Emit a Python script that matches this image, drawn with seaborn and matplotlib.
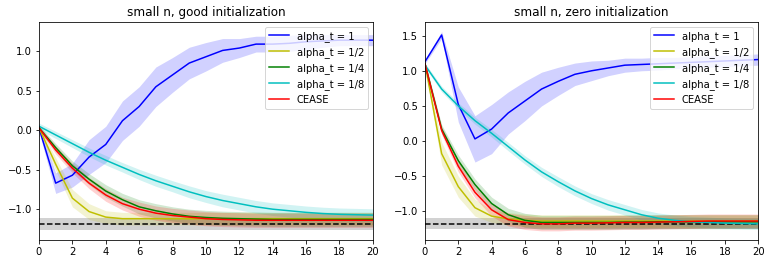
import numpy as np
import matplotlib
matplotlib.use("Agg")
import matplotlib.pyplot as plt
import seaborn as sns

steps = list(range(21))
labels = ["alpha_t = 1", "alpha_t = 1/2", "alpha_t = 1/4", "alpha_t = 1/8", "CEASE"]
colors = ["b", "y", "g", "c", "r"]
titles = ["small n, good initialization", "small n, zero initialization"]

# ---- left panel: good initialization ----
good_a1 = [0.03, -0.67, -0.57, -0.34, -0.18, 0.12, 0.30, 0.55, 0.70, 0.85, 0.93,
           1.01, 1.04, 1.09, 1.09, 1.10, 1.12, 1.13, 1.14, 1.14, 1.14]
good_a1_hw = [0.05, 0.13, 0.15, 0.22, 0.23, 0.25, 0.25, 0.25, 0.22, 0.2, 0.18,
              0.15, 0.12, 0.1, 0.1, 0.1, 0.1, 0.08, 0.07, 0.07, 0.07]
good_a2 = [0.03, -0.43, -0.86, -1.03, -1.10, -1.12, -1.12, -1.12, -1.12, -1.12, -1.12,
           -1.12, -1.12, -1.12, -1.12, -1.12, -1.12, -1.12, -1.12, -1.12, -1.12]
good_a2_hw = [0.03, 0.08, 0.11, 0.1, 0.08, 0.08, 0.08, 0.08, 0.08, 0.08, 0.08,
              0.08, 0.08, 0.08, 0.08, 0.08, 0.08, 0.08, 0.08, 0.08, 0.08]
good_a4 = [0.03, -0.22, -0.45, -0.62, -0.77, -0.88, -0.97, -1.02, -1.06, -1.09, -1.105,
           -1.115, -1.12, -1.125, -1.13, -1.13, -1.13, -1.13, -1.13, -1.13, -1.13]
good_a4_hw = [0.03, 0.05, 0.06, 0.07, 0.08, 0.08, 0.09, 0.09, 0.09, 0.09, 0.09,
              0.09, 0.09, 0.09, 0.09, 0.09, 0.09, 0.09, 0.09, 0.09, 0.09]
good_a8 = [0.05, -0.06, -0.17, -0.28, -0.38, -0.47, -0.56, -0.64, -0.71, -0.78, -0.84,
           -0.89, -0.93, -0.97, -1.00, -1.02, -1.04, -1.055, -1.065, -1.07, -1.075]
good_a8_hw = [0.04, 0.045, 0.05, 0.055, 0.06, 0.06, 0.065, 0.07, 0.07, 0.075, 0.075,
              0.08, 0.08, 0.08, 0.08, 0.08, 0.08, 0.08, 0.08, 0.08, 0.08]
good_cease = [0.03, -0.25, -0.48, -0.67, -0.82, -0.93, -1.00, -1.05, -1.08, -1.10, -1.12,
              -1.13, -1.135, -1.14, -1.14, -1.14, -1.14, -1.14, -1.14, -1.14, -1.14]
good_cease_hw = [0.03, 0.05, 0.06, 0.07, 0.08, 0.08, 0.09, 0.09, 0.09, 0.09, 0.09,
                 0.09, 0.09, 0.09, 0.09, 0.09, 0.09, 0.09, 0.09, 0.09, 0.09]
good_opt, good_opt_hw = -1.19, 0.075

# ---- right panel: zero initialization ----
zero_a1 = [1.13, 1.51, 0.52, 0.03, 0.17, 0.40, 0.57, 0.74, 0.85, 0.95, 1.00,
           1.04, 1.08, 1.09, 1.10, 1.11, 1.12, 1.13, 1.14, 1.15, 1.16]
zero_a1_hw = [0.03, 0.05, 0.25, 0.33, 0.35, 0.3, 0.28, 0.24, 0.2, 0.16, 0.14,
              0.11, 0.1, 0.09, 0.09, 0.08, 0.08, 0.08, 0.08, 0.08, 0.08]
zero_a2 = [1.10, -0.18, -0.65, -0.95, -1.07, -1.11, -1.13, -1.14, -1.14, -1.14, -1.14,
           -1.14, -1.14, -1.14, -1.14, -1.14, -1.14, -1.14, -1.14, -1.14, -1.14]
zero_a2_hw = [0.03, 0.16, 0.15, 0.12, 0.09, 0.09, 0.09, 0.09, 0.09, 0.09, 0.09,
              0.09, 0.09, 0.09, 0.09, 0.09, 0.09, 0.09, 0.09, 0.09, 0.09]
zero_a4 = [1.10, 0.17, -0.28, -0.62, -0.89, -1.05, -1.13, -1.16, -1.16, -1.16, -1.16,
           -1.16, -1.155, -1.155, -1.15, -1.15, -1.15, -1.15, -1.15, -1.15, -1.15]
zero_a4_hw = [0.03, 0.06, 0.08, 0.08, 0.09, 0.09, 0.1, 0.1, 0.1, 0.1, 0.1,
              0.1, 0.1, 0.1, 0.1, 0.1, 0.1, 0.1, 0.1, 0.1, 0.1]
zero_a8 = [1.08, 0.74, 0.50, 0.29, 0.11, -0.08, -0.27, -0.44, -0.58, -0.71, -0.82,
           -0.91, -0.98, -1.05, -1.10, -1.13, -1.15, -1.16, -1.17, -1.175, -1.18]
zero_a8_hw = [0.03, 0.04, 0.045, 0.05, 0.055, 0.06, 0.06, 0.065, 0.07, 0.07, 0.07,
              0.075, 0.075, 0.075, 0.075, 0.075, 0.075, 0.075, 0.075, 0.075, 0.075]
zero_cease = [1.10, 0.15, -0.36, -0.73, -0.98, -1.12, -1.16, -1.18, -1.18, -1.17, -1.17,
              -1.165, -1.16, -1.16, -1.155, -1.15, -1.145, -1.14, -1.14, -1.14, -1.14]
zero_cease_hw = [0.03, 0.06, 0.08, 0.08, 0.09, 0.09, 0.1, 0.1, 0.1, 0.1, 0.1,
                 0.1, 0.1, 0.1, 0.1, 0.1, 0.1, 0.1, 0.1, 0.1, 0.1]
zero_opt, zero_opt_hw = -1.18, 0.08

panels = [
    ([good_a1, good_a2, good_a4, good_a8, good_cease],
     [good_a1_hw, good_a2_hw, good_a4_hw, good_a8_hw, good_cease_hw],
     good_opt, good_opt_hw, (-1.39, 1.37), [-1.0, -0.5, 0.0, 0.5, 1.0]),
    ([zero_a1, zero_a2, zero_a4, zero_a8, zero_cease],
     [zero_a1_hw, zero_a2_hw, zero_a4_hw, zero_a8_hw, zero_cease_hw],
     zero_opt, zero_opt_hw, (-1.41, 1.695), [-1.0, -0.5, 0.0, 0.5, 1.0, 1.5]),
]

fig = plt.figure(figsize=(772 / 72, 264 / 72), dpi=72)
axes = [fig.add_axes([0.0505, 0.0909, 0.4325, 0.8258]),
        fig.add_axes([0.5505, 0.0909, 0.4315, 0.8258])]

x = np.array(steps)
for ax, title, (series, hws, opt, opt_hw, ylim, yt) in zip(axes, titles, panels):
    ax.axhspan(opt - opt_hw, opt + opt_hw, color="gray", alpha=0.35, lw=0)
    for vals, hw, col, lab in zip(series, hws, colors, labels):
        v = np.array(vals)
        h = np.array(hw)
        ax.fill_between(x, v - h, v + h, color=col, alpha=0.18, lw=0)
        sns.lineplot(x=x, y=v, color=col, label=lab, ax=ax, lw=1.5)
    ax.axhline(opt, color="k", ls="--", lw=1.5, zorder=1.5)
    ax.set_xlim(0, 20)
    ax.set_xticks(range(0, 21, 2))
    ax.set_ylim(*ylim)
    ax.set_yticks(yt)
    ax.set_title(title, fontsize=12)
    ax.tick_params(labelsize=10)
    ax.legend(loc="upper right", fontsize=10)

fig.savefig("out.png", dpi=72)
